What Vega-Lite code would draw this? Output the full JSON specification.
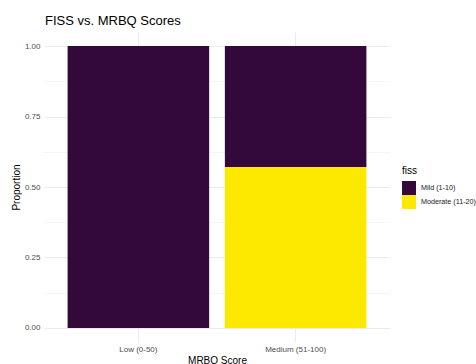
{
  "$schema": "https://vega.github.io/schema/vega-lite/v6.json",
  "autosize": {"type": "none"},
  "padding": {"left": 44, "top": 32, "right": 86, "bottom": 22},
  "width": 346,
  "height": 310,
  "background": "white",
  "title": {
    "text": "FISS vs. MRBQ Scores",
    "anchor": "start",
    "frame": "group",
    "font": "Liberation Sans",
    "fontSize": 13,
    "fontWeight": "normal",
    "color": "#000000",
    "baseline": "alphabetic",
    "offset": 6,
    "dx": 1,
    "dy": 12
  },
  "data": {
    "values": [
      {"mrbq": "Low (0-50)", "fiss": "Mild (1-10)", "proportion": 1.0},
      {"mrbq": "Medium (51-100)", "fiss": "Mild (1-10)", "proportion": 0.4286},
      {"mrbq": "Medium (51-100)", "fiss": "Moderate (11-20)", "proportion": 0.5714}
    ]
  },
  "mark": {"type": "bar"},
  "encoding": {
    "x": {
      "field": "mrbq",
      "type": "nominal",
      "scale": {"paddingInner": 0.1, "paddingOuter": 0.15},
      "axis": {
        "title": "MRBQ Score",
        "labelAngle": 0,
        "grid": true,
        "bandPosition": 0.5,
        "labelPadding": 3,
        "titlePadding": 2
      }
    },
    "y": {
      "field": "proportion",
      "type": "quantitative",
      "stack": "zero",
      "scale": {"domain": [-0.05, 1.05], "nice": false, "zero": false},
      "axis": {
        "title": "Proportion",
        "values": [0, 0.125, 0.25, 0.375, 0.5, 0.625, 0.75, 0.875, 1],
        "labelExpr": "(datum.value * 4) % 1 == 0 ? format(datum.value, '.2f') : ''",
        "gridWidth": {"condition": {"test": "(datum.value * 4) % 1 == 0", "value": 1}, "value": 0.5},
        "labelPadding": 4,
        "titlePadding": 3
      }
    },
    "color": {
      "field": "fiss",
      "type": "nominal",
      "scale": {"domain": ["Mild (1-10)", "Moderate (11-20)"], "range": ["#33083a", "#fde900"]},
      "legend": {
        "title": "fiss",
        "orient": "none",
        "legendX": 358,
        "legendY": 134,
        "symbolType": "square",
        "symbolSize": 196,
        "symbolStrokeWidth": 0,
        "symbolOpacity": 1,
        "rowPadding": 0,
        "labelOffset": 5,
        "titlePadding": 5
      }
    },
    "order": {"field": "fiss", "sort": "descending"}
  },
  "config": {
    "font": "Liberation Sans",
    "view": {"stroke": null},
    "axis": {
      "domain": false,
      "ticks": false,
      "gridColor": "#ebebeb",
      "labelColor": "#4d4d4d",
      "labelFontSize": 8,
      "labelFont": "Liberation Sans",
      "titleFont": "Liberation Sans",
      "titleFontSize": 10,
      "titleFontWeight": "normal",
      "titleColor": "#000000"
    },
    "legend": {
      "labelFontSize": 7.2,
      "labelColor": "#1a1a1a",
      "titleFontSize": 10,
      "titleFontWeight": "normal",
      "titleColor": "#000000",
      "labelFont": "Liberation Sans",
      "titleFont": "Liberation Sans"
    }
  }
}
